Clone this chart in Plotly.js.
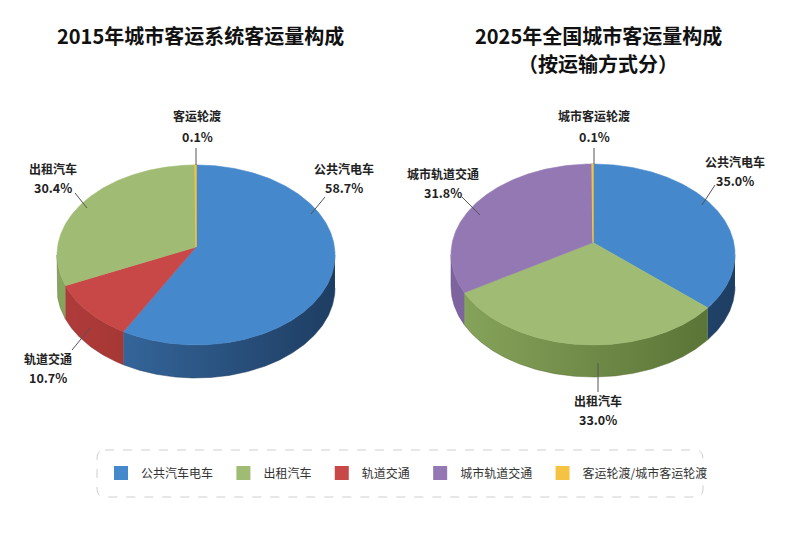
<!DOCTYPE html>
<html><head><meta charset="utf-8">
<script src="https://cdn.plot.ly/plotly-3.0.1.min.js"></script>
<style>html,body{margin:0;padding:0;background:#fff}#chart{width:800px;height:533px}</style>
</head><body><div id="chart"></div>
<script>
// ---------------- data ----------------
const cats2015 = ['公共汽电车', '轨道交通', '出租汽车', '客运轮渡'];
const vals2015 = [58.7, 10.7, 30.4, 0.1];
const cats2025 = ['公共汽电车', '出租汽车', '城市轨道交通', '城市客运轮渡'];
const vals2025 = [35.0, 33.0, 31.8, 0.1];
const legendLabels = ['公共汽车电车', '出租汽车', '轨道交通', '城市轨道交通', '客运轮渡/城市客运轮渡'];
const title2015 = '2015年城市客运系统客运量构成';
const title2025 = ['2025年全国城市客运量构成', '（按运输方式分）'];

// ---------------- styles ----------------
const palette = {
  bus:   {top: '#4688CC', s0: '#3B71AB', s1: '#1E3D62'},
  taxi:  {top: '#A0BC74', s0: '#88A55C', s1: '#566F33'},
  rail:  {top: '#C84848', s0: '#B03C3A', s1: '#852826'},
  metro: {top: '#9378B4', s0: '#7F65A0', s1: '#5E4A80'},
  ferry: {top: '#F5C342', s0: '#D9A82C', s1: '#B08620'}
};
const keys2015 = ['bus', 'rail', 'taxi', 'ferry'];
const keys2025 = ['bus', 'taxi', 'metro', 'ferry'];
const legendKeys = ['bus', 'taxi', 'rail', 'metro', 'ferry'];

const FONT = '"Noto Sans CJK SC", "Noto Sans", sans-serif';

// pie geometry (pixel-like axis units)
const geo2015 = {cx: 196, cy: 255, rx: 139, ry: 90, apexDy: -8, depth: 33};
const geo2025 = {cx: 593, cy: 254.5, rx: 142, ry: 90.5, apexDy: -12, depth: 32};

// label placement (layout only)
const lab2015 = [
  {x: 344, y1: 168, y2: 187, line: [325, 197, 311, 214]},
  {x: 48,  y1: 358, y2: 377, line: [90, 328, 72, 350]},
  {x: 53,  y1: 168, y2: 187, line: [75, 193, 87, 208]},
  {x: 197, y1: 115, y2: 136, line: [196, 148, 196, 165]}
];
const lab2025 = [
  {x: 735, y1: 161, y2: 180, line: [715, 185, 702, 205]},
  {x: 598, y1: 400, y2: 419, line: [598, 363, 598, 392]},
  {x: 443, y1: 173, y2: 192, line: [462, 197, 480, 215]},
  {x: 594, y1: 115, y2: 136, line: [594, 148, 594, 164]}
];

// ---------------- build ----------------
function pt(g, deg, dy) {
  const r = deg * Math.PI / 180;
  return [g.cx + g.rx * Math.sin(r), g.cy - g.ry * Math.cos(r) + (dy || 0)];
}
function arc(g, a0, a1, dy) {
  const xs = [], ys = [];
  const n = Math.max(2, Math.ceil((a1 - a0) / 0.5));
  for (let k = 0; k <= n; k++) {
    const p = pt(g, a0 + (a1 - a0) * k / n, dy);
    xs.push(p[0]); ys.push(p[1]);
  }
  return [xs, ys];
}

const sideTraces = [], topTraces = [], ferryTraces = [], annotations = [], shapes = [];

function buildPie(cats, vals, keys, g, labs) {
  const total = vals.reduce((s, v) => s + v, 0);
  let a = 0;
  const apex = [g.cx, g.cy + g.apexDy];
  cats.forEach((c, i) => {
    const span = vals[i] / total * 360;
    const a0 = a, a1 = a + span;
    a = a1;
    const col = palette[keys[i]];
    // visible side wall (front half: 90..270 deg)
    const b0 = Math.max(a0, 90), b1 = Math.min(a1, 270);
    if (b1 > b0) {
      const [tx, ty] = arc(g, b0, b1, 0);
      const [bx, by] = arc(g, b0, b1, g.depth);
      sideTraces.push({
        type: 'scatter', mode: 'lines',
        x: tx.concat(bx.reverse()), y: ty.concat(by.reverse()),
        fill: 'toself',
        fillcolor: col.s0,
        fillgradient: {type: 'horizontal', colorscale: [[0, col.s0], [1, col.s1]],
                       start: g.cx - g.rx, stop: g.cx + g.rx},
        line: {width: 0.5, color: col.s1},
        hoverinfo: 'skip', showlegend: false
      });
    }
    // top face
    const [ax, ay] = arc(g, a0, a1, 0);
    const isFerry = keys[i] === 'ferry';
    (isFerry ? ferryTraces : topTraces).push({
      type: 'scatter', mode: 'lines',
      x: [apex[0]].concat(ax, [apex[0]]),
      y: [apex[1]].concat(ay, [apex[1]]),
      fill: 'toself', fillcolor: col.top,
      line: {width: isFerry ? 1.4 : 0.6, color: col.top},
      name: c + ' ' + vals[i].toFixed(1) + '%',
      hoveron: 'fills', hoverinfo: 'name', showlegend: false
    });
    // labels
    const L = labs[i];
    annotations.push({x: L.x, y: L.y1, xref: 'x', yref: 'y', text: c, showarrow: false,
      font: {family: FONT, size: 12, color: '#222', weight: 600}});
    annotations.push({x: L.x, y: L.y2, xref: 'x', yref: 'y', text: vals[i].toFixed(1) + '%', showarrow: false,
      font: {family: FONT, size: 12.5, color: '#222', weight: 600}});
    shapes.push({type: 'line', xref: 'x', yref: 'y', x0: L.line[0], y0: L.line[1], x1: L.line[2], y1: L.line[3],
      line: {color: '#555', width: 1}});
  });
}

buildPie(cats2015, vals2015, keys2015, geo2015, lab2015);
buildPie(cats2025, vals2025, keys2025, geo2025, lab2025);

const NB = '\u00a0\u00a0';
const legendTraces = legendLabels.map((n, i) => ({
  type: 'scatter', mode: 'markers', x: [null], y: [null],
  name: i < legendLabels.length - 1 ? n + NB : n,
  marker: {symbol: 'square', size: 14, color: palette[legendKeys[i]].top},
  showlegend: true, hoverinfo: 'skip'
}));

annotations.push({x: 200, y: 35, xref: 'x', yref: 'y', text: title2015, showarrow: false,
  font: {family: FONT, size: 20, color: '#111', weight: 'bold'}});
annotations.push({x: 598, y: 35, xref: 'x', yref: 'y', text: title2025[0], showarrow: false,
  font: {family: FONT, size: 20, color: '#111', weight: 'bold'}});
annotations.push({x: 598, y: 63, xref: 'x', yref: 'y', text: title2025[1], showarrow: false,
  font: {family: FONT, size: 20, color: '#111', weight: 'bold'}});

// legend frame (rounded dashed box)
shapes.push({type: 'path', xref: 'x', yref: 'y',
  path: 'M105,450 H695 Q703,450 703,458 V489 Q703,497 695,497 H105 Q97,497 97,489 V458 Q97,450 105,450 Z',
  line: {color: '#cfcfcf', width: 1, dash: 'dash'}, fillcolor: 'rgba(0,0,0,0)'});

const layout = {
  width: 800, height: 533,
  margin: {l: 0, r: 0, t: 0, b: 0},
  paper_bgcolor: '#ffffff', plot_bgcolor: '#ffffff',
  xaxis: {range: [0, 800], visible: false, fixedrange: true},
  yaxis: {range: [533, 0], visible: false, fixedrange: true},
  showlegend: true,
  legend: {orientation: 'h', x: 0.5 + 7 / 800, xanchor: 'center', y: 1 - 473 / 533, yanchor: 'middle',
    font: {family: FONT, size: 12, color: '#333'}, bgcolor: 'rgba(0,0,0,0)', itemwidth: 30},
  annotations: annotations,
  shapes: shapes,
  hovermode: 'closest'
};

Plotly.newPlot('chart', sideTraces.concat(topTraces, ferryTraces, legendTraces), layout, {displayModeBar: false});
</script>
</body></html>
